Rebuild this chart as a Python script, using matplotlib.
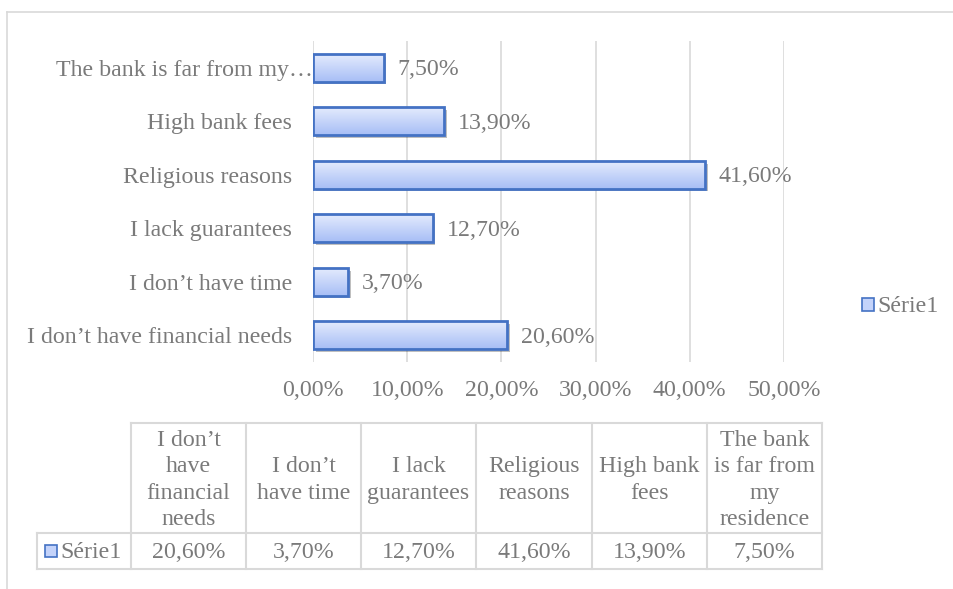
import numpy as np
import matplotlib
matplotlib.use("Agg")
import matplotlib.pyplot as plt
from matplotlib import patheffects as pe
from matplotlib.lines import Line2D
from matplotlib.patches import Rectangle
from matplotlib.colors import LinearSegmentedColormap
from matplotlib.transforms import ScaledTranslation
from matplotlib.ticker import FuncFormatter, MultipleLocator

# Survey answers (share of respondents)
categories = [
    "I don\u2019t have financial needs",
    "I don\u2019t have time",
    "I lack guarantees",
    "Religious reasons",
    "High bank fees",
    "The bank is far from my residence",
]
axis_labels = [
    "I don\u2019t have financial needs",
    "I don\u2019t have time",
    "I lack guarantees",
    "Religious reasons",
    "High bank fees",
    "The bank is far from my\u2026",
]
table_headers = [
    "I don\u2019t\nhave\nfinancial\nneeds",
    "I don\u2019t\nhave time",
    "I lack\nguarantees",
    "Religious\nreasons",
    "High bank\nfees",
    "The bank\nis far from\nmy\nresidence",
]
values = [0.206, 0.037, 0.127, 0.416, 0.139, 0.075]
series_name = "S\u00e9rie1"

W, H = 954, 589
TXT = "#7a7a7a"
GRID = "#d9d9d9"
EDGE = "#4472c4"
FS = 17.2
plt.rcParams["font.family"] = ["Liberation Serif", "DejaVu Serif"]


def pct(v):
    return f"{v * 100:.2f}%".replace(".", ",")


def fx(px):
    return px / W


def fy(py):
    return 1 - py / H


fig = plt.figure(figsize=(W / 100, H / 100), dpi=100)

# chart frame
fig.add_artist(Line2D([fx(7), 1], [fy(12), fy(12)], color=GRID, lw=1.2))
fig.add_artist(Line2D([fx(7), fx(7)], [0, fy(12)], color=GRID, lw=1.2))

ax = fig.add_axes([fx(313), fy(362), fx(784) - fx(313), fy(41) - fy(362)])
y = np.arange(len(categories))
bh = 0.52

# shadowed base bars
base = ax.barh(y, values, height=bh, color="#c4d3fa", zorder=2,
               path_effects=[pe.SimplePatchShadow(offset=(2, -2), shadow_rgbFace="#000000", alpha=0.25),
                             pe.Normal()])
# vertical gradient fill clipped to each bar
grad = np.linspace(0, 1, 64).reshape(-1, 1)
cmap = LinearSegmentedColormap.from_list("barfill", ["#e4ebfd", "#a7bef6"])
for rect, v, yi in zip(base, values, y):
    im = ax.imshow(grad, cmap=cmap, aspect="auto", origin="upper",
                   extent=[0, v, yi - bh / 2, yi + bh / 2], zorder=2.5, interpolation="bilinear")
    im.set_clip_path(rect)
ax.barh(y, values, height=bh, facecolor="none", edgecolor=EDGE, linewidth=2, zorder=3)

for v, yi in zip(values, y):
    ax.annotate(pct(v), (v, yi), xytext=(10, -1.5), textcoords="offset points",
                va="center", ha="left", fontsize=FS, color=TXT)

ax.set_xlim(0, 0.5)
ax.set_ylim(-0.5, len(categories) - 0.5)
ax.xaxis.set_major_locator(MultipleLocator(0.1))
ax.xaxis.set_major_formatter(FuncFormatter(lambda v, p: pct(v)))
ax.set_yticks(y)
ax.set_yticklabels(axis_labels)
ax.grid(axis="x", color=GRID, lw=1.2, zorder=0)
ax.set_axisbelow(True)
for s in ax.spines.values():
    s.set_visible(False)
ax.tick_params(axis="both", length=0, labelsize=FS, labelcolor=TXT)
ax.tick_params(axis="y", pad=15)
ax.tick_params(axis="x", pad=13)
ax.set_facecolor("none")

# the truncated label runs up to the axis line
lbl = ax.get_yticklabels()[-1]
lbl.set_transform(lbl.get_transform() + ScaledTranslation(0.21, 0, fig.dpi_scale_trans))

# legend
fig.add_artist(Rectangle((fx(862), fy(311)), fx(874) - fx(862), fy(298) - fy(311),
                         facecolor="#c4d3fa", edgecolor=EDGE, lw=1.2))
fig.text(fx(877), fy(306), series_name, fontsize=FS, color=TXT, va="center", ha="left")

# data table
col_edges = [131, 246, 361, 476, 592, 707, 822]
top, mid, bot = 423, 533, 569
lab_left = 37
tl = dict(color=GRID, lw=1.5)
fig.add_artist(Line2D([fx(col_edges[0]), fx(col_edges[-1])], [fy(top)] * 2, **tl))
fig.add_artist(Line2D([fx(lab_left), fx(col_edges[-1])], [fy(mid)] * 2, **tl))
fig.add_artist(Line2D([fx(lab_left), fx(col_edges[-1])], [fy(bot)] * 2, **tl))
fig.add_artist(Line2D([fx(lab_left)] * 2, [fy(mid), fy(bot)], **tl))
for xe in col_edges:
    fig.add_artist(Line2D([fx(xe)] * 2, [fy(top), fy(bot)], **tl))
for i, (hdr, v) in enumerate(zip(table_headers, values)):
    xc = (col_edges[i] + col_edges[i + 1]) / 2
    fig.text(fx(xc), fy((top + mid) / 2 + 2), hdr, fontsize=FS, color=TXT,
             ha="center", va="center", linespacing=1.33)
    fig.text(fx(xc), fy((mid + bot) / 2 + 1), pct(v), fontsize=FS, color=TXT,
             ha="center", va="center")
fig.add_artist(Rectangle((fx(45), fy(557)), fx(57) - fx(45), fy(545) - fy(557),
                         facecolor="#c4d3fa", edgecolor=EDGE, lw=1.2))
fig.text(fx(60), fy((mid + bot) / 2 + 1), series_name, fontsize=FS, color=TXT,
         ha="left", va="center")

fig.savefig("out.png", dpi=100)
